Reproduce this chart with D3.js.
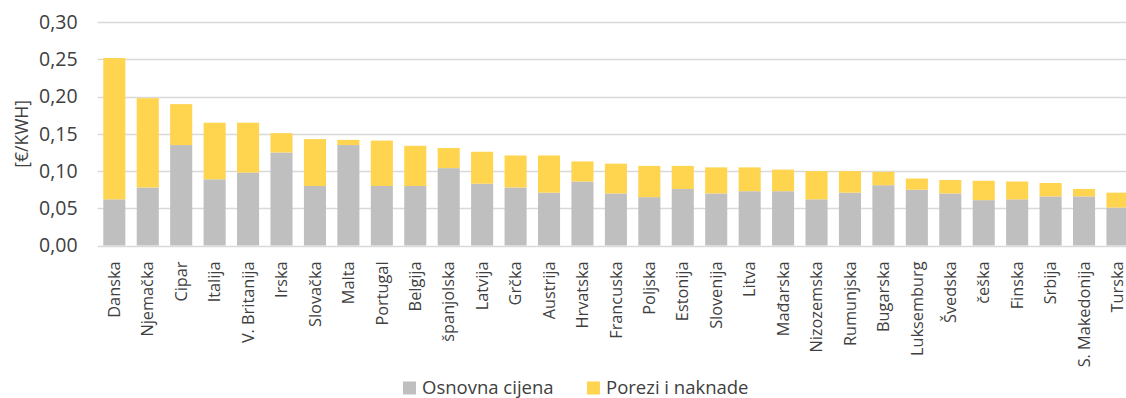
<!DOCTYPE html>
<html>
<head>
<meta charset="utf-8">
<script src="https://cdn.jsdelivr.net/npm/d3@7"></script>
<style>
  html, body { margin: 0; padding: 0; background: #fff; }
  svg { display: block; font-family: "Open Sans", sans-serif; }
</style>
</head>
<body>
<svg id="chart" width="1126" height="398"></svg>
<script>
// Electricity price by country: base price plus taxes and levies [€/kWh]
const countries = ["Danska", "Njemačka", "Cipar", "Italija", "V. Britanija", "Irska", "Slovačka", "Malta",
  "Portugal", "Belgija", "španjolska", "Latvija", "Grčka", "Austrija", "Hrvatska", "Francuska", "Poljska",
  "Estonija", "Slovenija", "Litva", "Mađarska", "Nizozemska", "Rumunjska", "Bugarska", "Luksemburg",
  "Švedska", "češka", "Finska", "Srbija", "S. Makedonija", "Turska"];

const basePrice = [0.062, 0.078, 0.135, 0.089, 0.098, 0.125, 0.080, 0.135, 0.080, 0.080, 0.104, 0.083,
  0.078, 0.071, 0.086, 0.070, 0.065, 0.076, 0.070, 0.073, 0.073, 0.062, 0.071, 0.081, 0.075, 0.070,
  0.061, 0.062, 0.066, 0.066, 0.051];

const taxesLevies = [0.190, 0.120, 0.055, 0.076, 0.067, 0.026, 0.063, 0.007, 0.061, 0.054, 0.027, 0.043,
  0.043, 0.050, 0.027, 0.040, 0.042, 0.031, 0.035, 0.032, 0.029, 0.038, 0.029, 0.018, 0.015, 0.018,
  0.026, 0.024, 0.018, 0.010, 0.020];

const yTicks = [0, 0.05, 0.10, 0.15, 0.20, 0.25, 0.30];
const seriesNames = ["Osnovna cijena", "Porezi i naknade"];
const seriesColors = ["#bfbfbf", "#ffd44f"];
const yTitle = "[€/KWH]";

const svg = d3.select("#chart");
const margin = { left: 97.6, top: 22.3, bottom: 245.5 };
const plotRight = 1134.2;
const textColor = "#404040";

const x = d3.scaleBand().domain(countries).range([margin.left, plotRight]).paddingInner(0.34).paddingOuter(0.17);
const y = d3.scaleLinear().domain([0, 0.30]).range([margin.bottom, margin.top]);

// gridlines
svg.append("g")
  .selectAll("line")
  .data(yTicks)
  .join("line")
  .attr("x1", margin.left)
  .attr("x2", plotRight)
  .attr("y1", d => Math.round(y(d)) + 0.5)
  .attr("y2", d => Math.round(y(d)) + 0.5)
  .attr("stroke", "#d9d9d9")
  .attr("stroke-width", 1.5);

// stacked bars
const rows = countries.map((c, i) => ({ country: c, base: basePrice[i], tax: taxesLevies[i] }));
const stack = d3.stack().keys(["base", "tax"])(rows);

svg.append("g")
  .selectAll("g")
  .data(stack)
  .join("g")
  .attr("fill", (d, i) => seriesColors[i])
  .selectAll("rect")
  .data(d => d)
  .join("rect")
  .attr("x", d => x(d.data.country))
  .attr("width", x.bandwidth())
  .attr("y", d => y(d[1]))
  .attr("height", d => y(d[0]) - y(d[1]));

// y axis tick labels
const fmt = d => d3.format(".2f")(d).replace(".", ",");
const yAxis = d3.axisLeft(y).tickValues(yTicks).tickFormat(fmt).tickSize(0).tickPadding(20);
const yg = svg.append("g").attr("transform", `translate(${margin.left},0)`).call(yAxis);
yg.select(".domain").remove();
yg.selectAll("text")
  .attr("fill", textColor)
  .style("font-size", "19.5px")
  .style("font-family", "'Open Sans', sans-serif");

// category labels (rotated)
const xAxis = d3.axisBottom(x).tickSize(0).tickPadding(0);
const xg = svg.append("g").attr("transform", `translate(0,${margin.bottom})`).call(xAxis);
xg.select(".domain").remove();
xg.selectAll("text")
  .attr("fill", textColor)
  .style("font-size", "16.3px")
  .style("font-family", "'Open Sans', sans-serif")
  .attr("transform", "rotate(-90)")
  .attr("text-anchor", "end")
  .attr("x", -16)
  .attr("y", 0)
  .attr("dy", "0.35em");

// y axis title
svg.append("text")
  .attr("transform", `translate(22,${(margin.top + margin.bottom) / 2}) rotate(-90)`)
  .attr("text-anchor", "middle")
  .attr("dy", "0.35em")
  .attr("fill", textColor)
  .style("font-size", "17.5px")
  .text(yTitle);

// legend
const legend = svg.append("g");
const legendX = [403, 587];
seriesNames.forEach((name, i) => {
  const g = legend.append("g").attr("transform", `translate(${legendX[i]},388)`);
  g.append("rect").attr("x", 0).attr("y", -6.5).attr("width", 13).attr("height", 13).attr("fill", seriesColors[i]);
  g.append("text").attr("x", 19).attr("dy", "0.35em").attr("fill", textColor).style("font-size", "18.5px").text(name);
});
</script>
</body>
</html>
